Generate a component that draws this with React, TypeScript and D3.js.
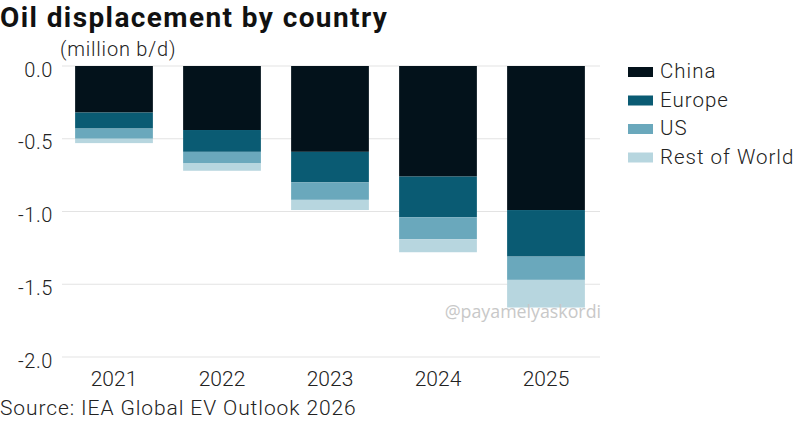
import * as React from 'react';
import * as d3 from 'd3';

const years = ['2021', '2022', '2023', '2024', '2025'];
const seriesNames = ['China', 'Europe', 'US', 'Rest of World'];
const china = [0.32, 0.44, 0.59, 0.76, 0.99];
const europe = [0.11, 0.15, 0.21, 0.28, 0.32];
const us = [0.07, 0.08, 0.12, 0.15, 0.16];
const restOfWorld = [0.03, 0.05, 0.07, 0.09, 0.19];
const yTicks = [0, -0.5, -1, -1.5, -2];
const colors = ['#03121b', '#0a5b73', '#6aa8bc', '#b7d6df'];

const width = 800;
const height = 421;
const labelFont = 'Roboto, "Liberation Sans", sans-serif';

const App: React.FunctionComponent = () => {
    const ref = React.useRef<SVGSVGElement>(null);

    React.useEffect(() => {
        if (!ref.current) {
            return;
        }
        const svg = d3.select(ref.current);
        svg.selectAll('*').remove();

        const x = d3.scaleBand().domain(years).range([60, 600]).paddingInner(0.28).paddingOuter(0.14);
        const y = d3.scaleLinear().domain([0, -2]).range([66, 357]);

        const rows = years.map((yr, i) => ({ year: yr, China: china[i], Europe: europe[i], US: us[i], 'Rest of World': restOfWorld[i] }));
        const stacked = d3.stack<any>().keys(seriesNames)(rows);

        // grid
        svg.append('g')
            .selectAll('line')
            .data(yTicks)
            .join('line')
            .attr('x1', 62)
            .attr('x2', 600)
            .attr('y1', d => y(d))
            .attr('y2', d => y(d))
            .attr('stroke', '#e3e3e3')
            .attr('stroke-width', 1);

        svg.append('g')
            .selectAll('text')
            .data(yTicks)
            .join('text')
            .attr('x', 53)
            .attr('y', d => y(d) + 10.5)
            .attr('text-anchor', 'end')
            .attr('font-family', labelFont)
            .attr('font-weight', 300)
            .attr('font-size', 20)
            .attr('letter-spacing', 0.6)
            .attr('fill', '#222')
            .text(d => d3.format('.1f')(d).replace('−', '-'));

        // bars
        svg.append('g')
            .selectAll('g')
            .data(stacked)
            .join('g')
            .attr('fill', (_, i) => colors[i])
            .selectAll('rect')
            .data(d => d)
            .join('rect')
            .attr('x', d => x(d.data.year)!)
            .attr('width', x.bandwidth())
            .attr('y', d => y(-d[0]))
            .attr('height', d => y(-d[1]) - y(-d[0]));

        // x labels
        svg.append('g')
            .selectAll('text')
            .data(years)
            .join('text')
            .attr('x', d => x(d)! + x.bandwidth() / 2)
            .attr('y', 386)
            .attr('text-anchor', 'middle')
            .attr('font-family', labelFont)
            .attr('font-weight', 300)
            .attr('font-size', 21)
            .attr('fill', '#222')
            .text(d => d);

        // legend
        const legend = svg.append('g')
            .selectAll('g')
            .data(seriesNames)
            .join('g')
            .attr('transform', (_, i) => `translate(628,${78 + i * 28.5})`);
        legend.append('rect')
            .attr('x', 0)
            .attr('y', -11)
            .attr('width', 25)
            .attr('height', 10)
            .attr('fill', (_, i) => colors[i]);
        legend.append('text')
            .attr('x', 32)
            .attr('y', 0)
            .attr('font-family', labelFont)
            .attr('font-weight', 300)
            .attr('font-size', 20.5)
            .attr('letter-spacing', 1)
            .attr('fill', '#222')
            .text(d => d);

        // titles
        svg.append('text')
            .attr('x', 0)
            .attr('y', 27)
            .attr('font-family', labelFont)
            .attr('font-weight', 700)
            .attr('font-size', 28)
            .attr('letter-spacing', 1.4)
            .attr('fill', '#111')
            .text('Oil displacement by country');
        svg.append('text')
            .attr('x', 60)
            .attr('y', 56)
            .attr('font-family', labelFont)
            .attr('font-weight', 300)
            .attr('font-size', 20)
            .attr('letter-spacing', 0.8)
            .attr('fill', '#222')
            .text('(million b/d)');
        svg.append('text')
            .attr('x', 0)
            .attr('y', 415)
            .attr('font-family', labelFont)
            .attr('font-weight', 300)
            .attr('font-size', 21)
            .attr('letter-spacing', 0.9)
            .attr('fill', '#222')
            .text('Source: IEA Global EV Outlook 2026');

        // watermark
        svg.append('text')
            .attr('x', 601)
            .attr('y', 318)
            .attr('text-anchor', 'end')
            .attr('font-family', '"Open Sans", sans-serif')
            .attr('font-size', 17.8)
            .attr('fill', '#c8c8c8')
            .text('@payamelyaskordi');
    });

    return <svg ref={ref} width={width} height={height}
        style={{ position: 'absolute', left: 0, top: 0, background: '#fff' }} />;
};

export default App;
